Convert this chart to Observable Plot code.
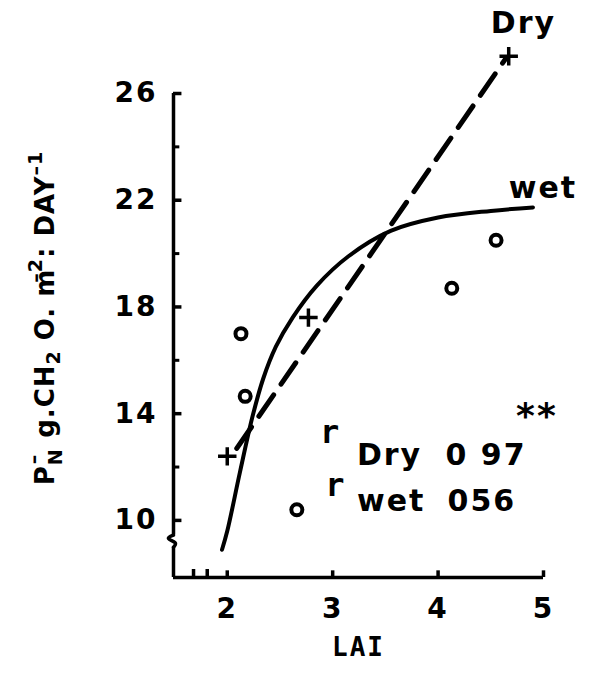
<!DOCTYPE html>
<html><head><meta charset="utf-8">
<script src="https://cdn.jsdelivr.net/npm/d3@7"></script>
<script src="https://cdn.jsdelivr.net/npm/@observablehq/plot@0.6"></script>
<style>body{margin:0;background:#fff} svg{display:block}</style>
</head><body><div id="chart"></div>
<script>
// tick values
const yMajorTicks = [10, 14, 18, 22, 26];
const yMinorTicks = [12, 16, 20, 24];
const xTicks = [2, 3, 4, 5];
const xTickLabels = ["2", "3", "4", "5"];
const yTickLabels = ["10", "14", "18", "22", "26"];
// wet (circles)
const wetLAI = [2.13, 2.17, 2.66, 4.13, 4.55];
const wetPN = [17.0, 14.65, 10.4, 18.7, 20.5];
// dry (plus)
const dryLAI = [2.0, 2.77, 4.67];
const dryPN = [12.4, 17.6, 27.4];
// fitted wet curve
const wetCurveLAI = [1.95, 2.0, 2.12, 2.24, 2.34, 2.46, 2.62, 2.85, 3.15, 3.55, 4.0, 4.5, 4.9];
const wetCurvePN = [8.9, 9.6, 11.8, 13.9, 15.3, 16.5, 17.6, 18.8, 19.9, 20.85, 21.35, 21.6, 21.73];
// fitted dry line
const dryLineLAI = [2.09, 4.64];
const dryLinePN = [12.7, 27.3];
// axis extents / breaks
const xDomain = [1.49, 5];
const yDomain = [7.86, 26];
const xBreaks = [1.68, 1.81];
const yBreak = [9.0, 9.45];
// annotations
const annoText = ["Dry", "0 97", "wet", "056", "Dry", "wet"];
const annoLAI = [3.23, 4.07, 3.23, 4.09, 4.5, 4.67];
const annoPN = [12.06, 12.06, 10.37, 10.37, 28.25, 22.1];
const rText = ["r", "r"];
const rLAI = [2.88, 2.93];
const rPN = [12.9, 10.9];
const starText = ["**"];
const starLAI = [4.74];
const starPN = [13.45];

const wet = wetLAI.map((x, i) => ({x, y: wetPN[i]}));
const dry = dryLAI.map((x, i) => ({x, y: dryPN[i]}));
const wetCurve = wetCurveLAI.map((x, i) => ({x, y: wetCurvePN[i]}));
const dryLine = dryLineLAI.map((x, i) => ({x, y: dryLinePN[i]}));
const anno = annoText.map((t, i) => ({t, x: annoLAI[i], y: annoPN[i]}));
const rAnno = rText.map((t, i) => ({t, x: rLAI[i], y: rPN[i]}));
const stars = starText.map((t, i) => ({t, x: starLAI[i], y: starPN[i]}));
const x0 = xDomain[0], y0 = yDomain[0];
const yCurl = [
  {x: x0, y: yBreak[1]}, {x: x0 - 0.08, y: (yBreak[0] * 0.3 + yBreak[1] * 0.7)},
  {x: x0 + 0.04, y: (yBreak[0] * 0.6 + yBreak[1] * 0.4)}, {x: x0, y: yBreak[0]}
];

const FONT = "'DejaVu Sans', sans-serif";
const MONO = "'DejaVu Sans Mono', monospace";
const plot = Plot.plot({
  width: 592, height: 673,
  marginLeft: 173, marginRight: 49, marginTop: 93, marginBottom: 96,
  style: {fontFamily: FONT, fontWeight: "bold", fontSize: "28px", color: "black", background: "white", letterSpacing: "2px"},
  x: {domain: xDomain, axis: null},
  y: {domain: yDomain, axis: null},
  marks: [
    // axes
    Plot.ruleX([x0], {y1: yBreak[1], y2: yDomain[1], strokeWidth: 3.5}),
    Plot.line(yCurl, {x: "x", y: "y", curve: "basis", strokeWidth: 3.5}),
    Plot.ruleX([x0], {y1: y0, y2: yBreak[0], strokeWidth: 3.5}),
    Plot.ruleY([y0], {x1: x0, x2: xDomain[1], strokeWidth: 3.5}),
    Plot.ruleX(xBreaks, {y1: y0, y2: y0 + 0.3, strokeWidth: 3.5}),
    Plot.ruleY(yMajorTicks, {x1: x0, x2: x0 + 0.08, strokeWidth: 3.5}),
    Plot.ruleY(yMinorTicks, {x1: x0, x2: x0 + 0.06, strokeWidth: 3}),
    Plot.ruleX(xTicks, {y1: y0, y2: y0 + 0.25, strokeWidth: 3.5}),
    Plot.text(yMajorTicks, {x: x0, y: d => d, text: (d, i) => yTickLabels[i], dx: -16, textAnchor: "end", fontSize: 28}),
    Plot.text(xTicks, {x: d => d, y: y0, text: (d, i) => xTickLabels[i], dy: 32, fontSize: 28}),
    Plot.text(["LAI"], {frameAnchor: "bottom", dy: 78, fontSize: 26, fontFamily: MONO}),
    // fits
    Plot.line(wetCurve, {x: "x", y: "y", curve: "catmull-rom", strokeWidth: 4}),
    Plot.line(dryLine, {x: "x", y: "y", strokeWidth: 5, strokeDasharray: "26,13"}),
    // data
    Plot.dot(wet, {x: "x", y: "y", r: 5.5, stroke: "black", strokeWidth: 4, fill: "white"}),
    Plot.dot(dry, {x: "x", y: "y", r: 6, symbol: "plus", stroke: "black", strokeWidth: 3.5}),
    // annotations
    Plot.text(anno, {x: "x", y: "y", text: "t", textAnchor: "start", lineAnchor: "bottom", fontSize: 30}),
    Plot.text(rAnno, {x: "x", y: "y", text: "t", textAnchor: "start", lineAnchor: "bottom", fontSize: 32, fontFamily: MONO}),
    Plot.text(stars, {x: "x", y: "y", text: "t", textAnchor: "start", lineAnchor: "bottom", fontSize: 36})
  ]
});
document.getElementById("chart").appendChild(plot);

// y-axis title with sub/superscripts
const svg = d3.select(plot);
const t = svg.append("text")
  .attr("transform", "translate(54,318) rotate(-90)")
  .attr("text-anchor", "middle")
  .attr("font-family", FONT).attr("font-weight", "bold").attr("font-size", 26)
  .attr("letter-spacing", "1px")
  .attr("fill", "black");
const parts = [
  ["P", 0, 0], ["N", 8, 0], ["–", -14, -16], [" g.CH", 0, 6], ["2", 6, 0], [" O. m", 0, 0], ["–2", -12, -14], [": DAY", 0, 0], ["–1", -12, 0]
];
let prev = 0;
for (const [s, shift, dx] of parts) {
  t.append("tspan").attr("dy", shift - prev).attr("dx", dx).attr("font-size", shift ? 19 : 26).text(s);
  prev = shift;
}
</script>
</body></html>
